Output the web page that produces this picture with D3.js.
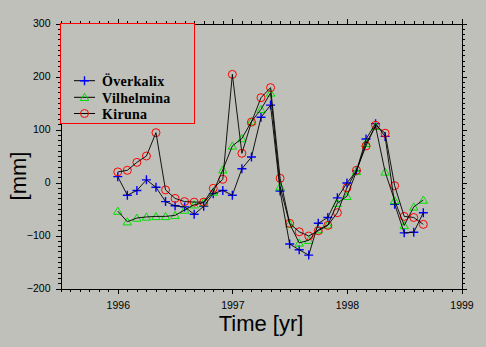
<!DOCTYPE html>
<html>
<head>
<meta charset="utf-8">
<script src="https://cdn.jsdelivr.net/npm/d3@7"></script>
<style>
  html, body { margin: 0; padding: 0; background: #bec0b9; }
  svg { display: block; }
</style>
</head>
<body>
<svg id="chart" width="486" height="347"></svg>
<script>
// Monthly level anomalies, Jan 1996 – Sep 1998 (mm)
const months = d3.range(0, 33);            // months since Jan 1996
const overkalix = [11, -24, -15, 5, -9, -36, -44, -46, -60, -45, -21, -15, -24, 26, 48, 123, 146,
                   -16, -116, -127, -137, -77, -66, -29, -1, 22, 82, 111, 87, -41, -95, -94, -57];
const vilhelmina = [-54, -74, -67, -65, -64, -64, -62, -52, -42, -38, -18, 24, 69, 83, 115, 138, 169,
                    -8, -78, -114, -109, -89, -80, -39, -26, 21, 74, 106, 20, -34, -81, -46, -33];
const kiruna = [20, 23, 38, 50, 94, -14, -30, -36, -37, -37, -11, 6, 204, 55, 114, 160, 179,
                8, -77, -93, -101, -91, -81, -57, -10, 23, 69, 108, 93, -6, -64, -66, -79];
const seriesNames = ["Överkalix", "Vilhelmina", "Kiruna"];
const xTicks = [1996, 1997, 1998, 1999];
const yTicks = [-200, -100, 0, 100, 200, 300];

const svg = d3.select("#chart");
const L = 60.5, R = 461.5, T = 23.5, B = 288.5;

const x = d3.scaleLinear().domain([1995.5, 1999]).range([L, R]);
const y = d3.scaleLinear().domain([-200, 300]).range([B, T]);

const minorX = d3.range(0, 43).map(i => 1995.5 + i / 12);
const minorY = d3.range(-200, 301, 10);

function styleAxis(g) {
  g.attr("shape-rendering", "crispEdges");
  g.select(".domain").attr("stroke", "#000").attr("stroke-width", 1);
  g.selectAll(".tick line").attr("stroke", "#000").attr("stroke-width", 1);
  g.selectAll("text").attr("fill", "#000")
    .style("font-family", "'Liberation Sans', Arial, sans-serif").style("font-size", "10.5px");
}

// minor ticks on all four sides
svg.append("g").attr("transform", `translate(0,${B})`)
  .call(d3.axisBottom(x).tickValues(minorX).tickSize(3).tickFormat("").tickSizeOuter(0)).call(styleAxis);
svg.append("g").attr("transform", `translate(0,${T})`)
  .call(d3.axisTop(x).tickValues(minorX).tickSize(3).tickFormat("").tickSizeOuter(0)).call(styleAxis);
svg.append("g").attr("transform", `translate(${L},0)`)
  .call(d3.axisLeft(y).tickValues(minorY).tickSize(3).tickFormat("").tickSizeOuter(0)).call(styleAxis);
svg.append("g").attr("transform", `translate(${R},0)`)
  .call(d3.axisRight(y).tickValues(minorY).tickSize(3).tickFormat("").tickSizeOuter(0)).call(styleAxis);

// major ticks with labels
const xb = svg.append("g").attr("transform", `translate(0,${B})`)
  .call(d3.axisBottom(x).tickValues(xTicks).tickSize(5).tickFormat(d3.format("d")).tickSizeOuter(0))
  .call(styleAxis);
xb.selectAll("text").attr("dy", null).attr("y", 20);
svg.append("g").attr("transform", `translate(0,${T})`)
  .call(d3.axisTop(x).tickValues(xTicks).tickSize(5).tickFormat("").tickSizeOuter(0)).call(styleAxis);
svg.append("g").attr("transform", `translate(${L},0)`)
  .call(d3.axisLeft(y).tickValues(yTicks).tickSize(5).tickPadding(5).tickFormat(d3.format("d")).tickSizeOuter(0))
  .call(styleAxis);
svg.append("g").attr("transform", `translate(${R},0)`)
  .call(d3.axisRight(y).tickValues(yTicks).tickSize(5).tickFormat("").tickSizeOuter(0)).call(styleAxis);

// axis titles
svg.append("text").attr("x", 261).attr("y", 331).attr("text-anchor", "middle")
  .style("font-family", "'Liberation Sans', Arial, sans-serif").style("font-size", "22px")
  .attr("fill", "#000").text("Time [yr]");
svg.append("text").attr("transform", "translate(26,176) rotate(-90)").attr("text-anchor", "middle")
  .style("font-family", "'Liberation Sans', Arial, sans-serif").style("font-size", "22px")
  .attr("fill", "#000").text("[mm]");

// markers
const markers = {
  "Överkalix": { color: "#0000ff", path: "M-4.5,0H4.5M0,-4.5V4.5", width: 1.4 },
  "Vilhelmina": { color: "#00e000", path: "M0,-4L4.2,3.2H-4.2Z", width: 1 },
  "Kiruna": { color: "#ff0000", path: d3.symbol(d3.symbolCircle, Math.PI * 16)(), width: 1 }
};

const seriesData = [overkalix, vilhelmina, kiruna].map((vals, i) => ({
  name: seriesNames[i],
  points: months.map(m => ({ t: 1996 + m / 12, v: vals[m] }))
}));

const line = d3.line().x(d => x(d.t)).y(d => y(d.v));
const plot = svg.append("g");

seriesData.forEach(s => {
  const mk = markers[s.name];
  plot.append("g").selectAll("path").data(s.points).join("path")
    .attr("transform", d => `translate(${x(d.t)},${y(d.v)})`)
    .attr("d", mk.path).attr("fill", "none").attr("stroke", mk.color).attr("stroke-width", mk.width);
});
seriesData.forEach(s => {
  plot.append("path").datum(s.points).attr("d", line)
    .attr("fill", "none").attr("stroke", "#000").attr("stroke-width", 0.9);
});

// legend
const lg = svg.append("g");
lg.append("rect").attr("x", L).attr("y", T).attr("width", 194.5 - L).attr("height", 100)
  .attr("fill", "#bec0b9").attr("stroke", "#ff0000").attr("stroke-width", 1)
  .attr("shape-rendering", "crispEdges");
const legY = [80.7, 97.3, 113.5];
seriesNames.forEach((name, i) => {
  const mk = markers[name];
  lg.append("line").attr("x1", 74).attr("x2", 95).attr("y1", legY[i]).attr("y2", legY[i])
    .attr("stroke", "#000").attr("stroke-width", 1);
  lg.append("path").attr("transform", `translate(84.5,${legY[i]})`).attr("d", mk.path)
    .attr("fill", "none").attr("stroke", mk.color).attr("stroke-width", mk.width);
  lg.append("text").attr("x", 102).attr("y", legY[i] + 5.3)
    .style("font-family", "'Liberation Serif', 'Times New Roman', serif").style("font-weight", "bold")
    .style("font-size", "14px").style("letter-spacing", "0.3px").attr("fill", "#000").text(name);
});
</script>
</body>
</html>
